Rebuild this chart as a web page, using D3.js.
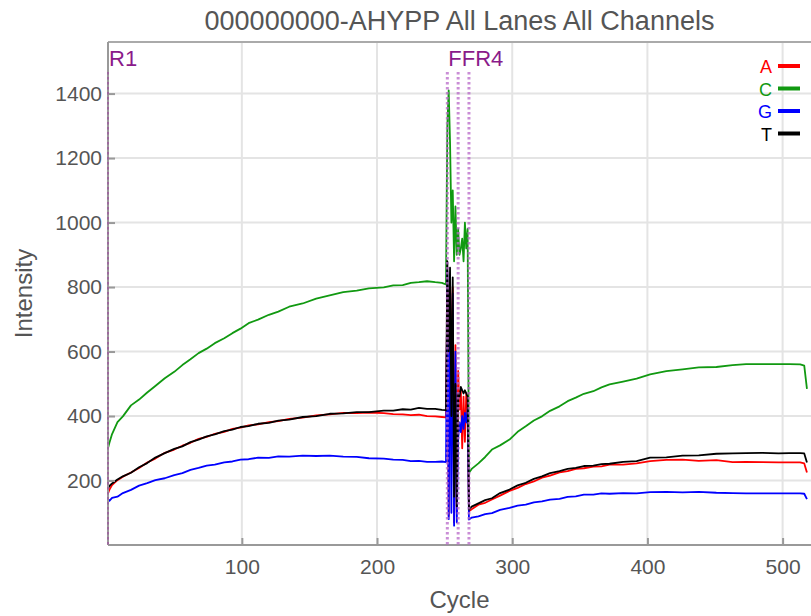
<!DOCTYPE html>
<html>
<head>
<meta charset="utf-8">
<script src="https://cdn.jsdelivr.net/npm/d3@7"></script>
<style>
  body { margin: 0; background: #fff; }
  text { font-family: "Liberation Sans", Arial, sans-serif; }
</style>
</head>
<body>
<svg id="chart"></svg>
<script>
// cycles and per-channel intensities (read 1, index reads, read 4)
const cycles = [1,2,4,8,12,18,24,30,36,43,50,56,62,68,74,80,87,93,99,105,112,120,127,135,145,155,165,175,185,194,205,212,219,225,231,237,243,248,251,
  252,253,254,255,256,257,258,259,260,261,262,263,264,265,266,267,
  268,270,275,280,285,291,298,304,310,316,322,328,335,341,347,353,360,366,372,382,392,402,414,426,438,451,463,473,485,497,505,513,516,518];

const valsA = [160,171,186,201,212,225,239,256,268,286,296,308,317,329,335,345,351,360,364,371,374,381,384,391,395,402,405,410,409,411,409,406,405,403,404,400,399,397,396,
  780,90,820,500,800,70,620,100,540,420,480,300,460,320,470,440,
  105,111,125,131,141,153,168,177,189,197,209,215,225,229,236,238,243,244,249,249,253,260,264,265,261,263,257,258,257,256,256,256,253,225];
const valsC = [300,316,344,381,399,433,451,473,493,517,537,558,576,595,609,626,641,657,671,688,699,714,724,739,749,764,774,784,789,796,799,805,806,813,815,818,815,813,808,
  1300,1410,1250,1000,1100,880,1050,900,980,900,920,950,880,1000,920,980,
  224,236,253,273,296,309,327,351,368,386,399,416,430,446,457,469,477,489,498,507,516,529,539,545,551,552,558,561,561,561,561,560,556,484];
const valsG = [141,137,146,150,161,171,184,192,201,207,217,223,233,239,246,249,256,259,265,266,271,270,275,274,277,276,277,274,273,269,268,265,264,260,261,258,258,259,257,
  850,80,750,100,780,60,600,70,330,380,350,400,360,410,380,420,
  79,85,89,96,99,109,115,122,125,132,135,141,143,149,151,156,156,160,159,161,160,164,165,163,165,162,161,160,160,160,160,160,159,142];
const valsT = [176,183,191,203,213,224,241,254,271,285,298,306,319,327,337,343,353,358,366,369,376,379,386,389,397,400,407,408,412,412,417,417,421,420,425,422,422,419,418,
  880,600,860,400,830,150,500,120,470,460,490,480,470,480,470,460,
  110,119,129,139,145,161,172,185,193,205,213,223,229,236,239,245,246,251,252,258,260,271,272,277,278,283,284,285,286,284,285,285,284,256];

const channels = ["A", "C", "G", "T"];
const channelColors = ["#ff0000", "#119911", "#0000ff", "#000000"];
const seriesVals = [valsA, valsC, valsG, valsT];

const readMarkers = [1, 252, 260, 268];
const readLabels = ["R1", "F", "F", "R4"];

const xTicks = [100, 200, 300, 400, 500];
const yTicks = [200, 400, 600, 800, 1000, 1200, 1400];

const W = 811, H = 616;
const m = { left: 108, right: 0, top: 42, bottom: 71 };

const svg = d3.select("#chart").attr("width", W).attr("height", H);

const x = d3.scaleLinear().domain([1, 521]).range([m.left, W - m.right]);
const y = d3.scaleLinear().domain([0, 1560]).range([H - m.bottom, m.top]);

svg.append("defs").append("clipPath").attr("id", "clip")
  .append("rect").attr("x", m.left).attr("y", m.top)
  .attr("width", W - m.left).attr("height", H - m.bottom - m.top);

// grid
svg.append("g").selectAll("line").data(yTicks).join("line")
  .attr("x1", m.left).attr("x2", W).attr("y1", d => y(d)).attr("y2", d => y(d))
  .attr("stroke", "#e4e4e4").attr("stroke-width", 2);
svg.append("g").selectAll("line").data(xTicks).join("line")
  .attr("y1", m.top).attr("y2", H - m.bottom).attr("x1", d => x(d)).attr("x2", d => x(d))
  .attr("stroke", "#e4e4e4").attr("stroke-width", 2);

// top border
svg.append("line").attr("x1", m.left).attr("x2", W).attr("y1", m.top).attr("y2", m.top)
  .attr("stroke", "#aaa").attr("stroke-width", 2);

// series
const plot = svg.append("g").attr("clip-path", "url(#clip)");
seriesVals.forEach((vals, i) => {
  const line = d3.line().x((d, j) => x(cycles[j])).y(d => y(d));
  plot.append("path").datum(vals)
    .attr("d", line)
    .attr("fill", "none")
    .attr("stroke", channelColors[i])
    .attr("stroke-width", 1.8)
    .attr("stroke-linejoin", "round");
});

// axes
const xAxis = d3.axisBottom(x).tickValues(xTicks).tickSize(-7).tickPadding(14).tickFormat(d3.format("d"));
const yAxis = d3.axisLeft(y).tickValues(yTicks).tickSize(-7).tickPadding(6).tickFormat(d3.format("d"));

const gx = svg.append("g").attr("transform", `translate(0,${H - m.bottom})`).call(xAxis);
const gy = svg.append("g").attr("transform", `translate(${m.left},0)`).call(yAxis);
[gx, gy].forEach(g => {
  g.select(".domain").attr("stroke", "#999").attr("stroke-width", 2);
  g.selectAll(".tick line").attr("stroke", "#999").attr("stroke-width", 2);
  g.selectAll(".tick text").attr("fill", "#555").style("font-size", "21px")
    .style("font-family", '"Liberation Sans", Arial, sans-serif');
});
gy.select(".domain").attr("d", `M0,${H - m.bottom}V${m.top}`);
gx.select(".domain").attr("d", `M${m.left},0H${W}`);

// read markers
const mk = svg.append("g");
mk.selectAll("line").data(readMarkers).join("line")
  .attr("x1", d => x(d)).attr("x2", d => x(d))
  .attr("y1", 72).attr("y2", H - m.bottom)
  .attr("stroke", (d, i) => i === 0 ? "#a040a0" : "#b868c8").attr("stroke-opacity", 0.75)
  .attr("stroke-width", (d, i) => i === 0 ? 1.5 : 3)
  .attr("stroke-dasharray", "2.5,2.5");

// labels: markers that sit close together run into one label ("FFR4")
const groups = [];
readMarkers.forEach((d, i) => {
  const last = groups[groups.length - 1];
  if (last && x(d) - x(readMarkers[last[last.length - 1]]) < 20) last.push(i);
  else groups.push([i]);
});
mk.selectAll("text").data(groups).join("text")
  .attr("x", g => x(readMarkers[g[0]]) + 1).attr("y", 66)
  .attr("fill", "#8a1a8a").style("font-size", "22px")
  .text(g => g.map(i => readLabels[i]).join(""));

// legend
const lg = svg.append("g");
channels.forEach((c, i) => {
  const ly = 66 + i * 22.5;
  lg.append("text").attr("x", 772).attr("y", ly + 7).attr("text-anchor", "end")
    .attr("fill", channelColors[i]).style("font-size", "18px").text(c);
  lg.append("line").attr("x1", 778).attr("x2", 800).attr("y1", ly).attr("y2", ly)
    .attr("stroke", channelColors[i]).attr("stroke-width", 4);
});

// titles
svg.append("text").attr("x", (m.left + W) / 2).attr("y", 30).attr("text-anchor", "middle")
  .attr("fill", "#555").style("font-size", "27px").text("000000000-AHYPP All Lanes All Channels");
svg.append("text").attr("x", (m.left + W) / 2).attr("y", 608).attr("text-anchor", "middle")
  .attr("fill", "#555").style("font-size", "24px").text("Cycle");
svg.append("text").attr("transform", `translate(32,${(m.top + H - m.bottom) / 2}) rotate(-90)`)
  .attr("text-anchor", "middle").attr("fill", "#555").style("font-size", "24px").text("Intensity");
</script>
</body>
</html>
